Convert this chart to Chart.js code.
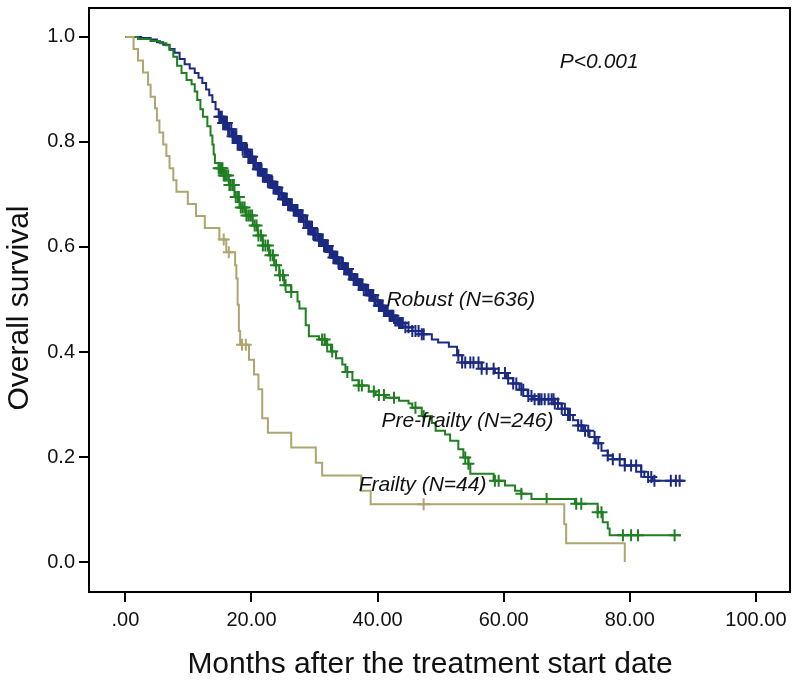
<!DOCTYPE html>
<html>
<head>
<meta charset="utf-8">
<script src="https://cdn.jsdelivr.net/npm/chart.js@4.4.1/dist/chart.umd.min.js"></script>
<style>
  body { margin: 0; background: #fff; }
  #wrap { width: 798px; height: 684px; }
</style>
</head>
<body>
<div id="wrap"><canvas id="kmChart" width="798" height="684"></canvas></div>
<script>
// Kaplan-Meier step points (month, survival after the drop)
const robustTimes = [0, 2.5, 4.0, 5.0, 6.0, 7.0, 7.8, 8.6, 9.4, 10.2, 11.0, 11.6, 12.2, 12.8, 13.3, 13.8, 14.3, 14.8,
  15.5, 16.2, 17.0, 17.8, 18.6, 19.4, 20.2, 21.0, 21.8, 22.6, 23.4, 24.2, 25.0, 25.8, 26.6, 27.4, 28.2, 29.0, 29.8,
  30.6, 31.4, 32.2, 33.0, 33.8, 34.6, 35.4, 36.2, 37.0, 37.8, 38.6, 39.4, 40.2, 41.0, 41.8, 42.6, 43.4, 44.4, 45.5,
  47.0, 48.6, 49.6, 51.3, 52.6, 53.4, 56.5, 58.6, 60.5, 61.5, 62.5, 63.8, 64.6, 68.0, 69.2, 70.2, 71.0, 71.8, 72.6,
  73.6, 74.6, 75.5, 76.5, 77.3, 79.2, 81.8, 82.3, 83.6, 88.7];
const robustSurv = [1.0, 0.998, 0.995, 0.990, 0.985, 0.977, 0.970, 0.958, 0.948, 0.940, 0.931, 0.922, 0.912, 0.900, 0.889, 0.876, 0.862, 0.848,
  0.836, 0.824, 0.811, 0.798, 0.785, 0.772, 0.760, 0.748, 0.736, 0.724, 0.713, 0.702, 0.691, 0.680, 0.670, 0.660, 0.648, 0.636, 0.624,
  0.613, 0.602, 0.591, 0.580, 0.569, 0.558, 0.548, 0.538, 0.528, 0.518, 0.508, 0.498, 0.488, 0.478, 0.469, 0.460, 0.455, 0.447, 0.440,
  0.434, 0.424, 0.418, 0.410, 0.394, 0.380, 0.368, 0.360, 0.350, 0.340, 0.328, 0.316, 0.310, 0.302, 0.292, 0.280, 0.270, 0.260, 0.250,
  0.238, 0.226, 0.212, 0.203, 0.196, 0.184, 0.172, 0.162, 0.155, 0.155];
const robustCensored = [14.9, 15.1, 15.3, 15.5, 15.7, 15.9, 16.1, 16.3, 16.5, 16.8, 17.0, 17.2, 17.4, 17.6, 17.8, 18.0, 18.2,
  18.4, 18.6, 18.9, 19.1, 19.3, 19.5, 19.7, 19.9, 20.1, 20.3, 20.5, 20.7, 21.0, 21.2, 21.4, 21.6, 21.8, 22.0, 22.2, 22.4,
  22.6, 22.9, 23.1, 23.3, 23.5, 23.7, 23.9, 24.1, 24.3, 24.5, 24.8, 25.0, 25.2, 25.4, 25.6, 25.8, 26.0, 26.2, 26.4, 26.7,
  26.9, 27.1, 27.3, 27.5, 27.7, 27.9, 28.1, 28.3, 28.6, 28.8, 29.0, 29.2, 29.4, 29.6, 29.8, 30.0, 30.2, 30.5, 30.7, 30.9,
  31.1, 31.3, 31.5, 31.7, 31.9, 32.1, 32.4, 32.6, 32.8, 33.0, 33.2, 33.4, 33.6, 33.8, 34.0, 34.3, 34.5, 34.7, 34.9, 35.1,
  35.3, 35.5, 35.7, 35.9, 36.2, 36.4, 36.6, 36.8, 37.0, 37.2, 37.4, 37.6, 37.8, 38.1, 38.3, 38.5, 38.7, 38.9, 39.1, 39.3,
  39.5, 39.7, 40.0, 40.2, 40.4, 40.6, 40.8, 41.0, 41.2, 41.4, 41.6, 41.9, 42.1, 42.3, 42.5, 42.8, 43.1, 43.4, 43.7, 44.0,
  44.4, 44.9, 45.5, 46.0, 46.5, 47.0, 47.3, 52.8, 53.4, 53.9, 54.7, 55.2, 56.0, 56.5, 57.3, 58.4, 59.2, 60.2, 60.7, 61.5,
  62.0, 62.8, 63.1, 63.9, 64.4, 64.9, 65.5, 65.7, 66.0, 66.5, 67.1, 67.6, 67.9, 68.1, 68.6, 69.2, 69.7, 70.2, 70.5, 71.8,
  72.3, 72.9, 73.4, 74.4, 75.0, 76.5, 77.3, 78.4, 79.2, 80.2, 81.0, 81.8, 82.9, 83.4, 83.9, 86.5, 87.3, 87.9];

const preTimes = [0, 2.0, 4.0, 5.5, 6.5, 7.0, 7.6, 8.2, 8.9, 9.7, 10.5, 11.0, 11.4, 11.9, 12.3, 13.0, 13.5, 13.8, 14.0, 14.2,
  14.8, 15.6, 16.4, 17.3, 18.1, 19.1, 20.2, 21.0, 21.8, 22.8, 23.6, 24.4, 25.2, 26.3, 27.3, 27.6, 28.6, 29.1, 30.7, 31.8,
  32.6, 33.4, 34.4, 34.9, 36.0, 37.0, 38.6, 39.7, 41.3, 43.4, 44.9, 45.5, 47.0, 48.6, 49.2, 50.7, 51.5, 52.8, 53.6, 54.4,
  54.7, 58.4, 60.2, 61.8, 62.8, 64.4, 71.3, 74.9, 75.7, 76.5, 76.8, 88.1];
const preSurv = [1.0, 0.996, 0.992, 0.988, 0.984, 0.975, 0.962, 0.945, 0.931, 0.918, 0.910, 0.896, 0.880, 0.862, 0.848, 0.830, 0.812, 0.795, 0.776, 0.760,
  0.750, 0.736, 0.718, 0.695, 0.675, 0.660, 0.641, 0.622, 0.603, 0.584, 0.565, 0.546, 0.527, 0.514, 0.496, 0.483, 0.451, 0.430, 0.424, 0.414,
  0.401, 0.388, 0.376, 0.362, 0.346, 0.336, 0.325, 0.318, 0.313, 0.307, 0.302, 0.294, 0.278, 0.265, 0.250, 0.243, 0.231, 0.215, 0.199, 0.187,
  0.168, 0.155, 0.146, 0.136, 0.130, 0.120, 0.111, 0.095, 0.076, 0.064, 0.051, 0.051];
const preCensored = [14.8, 15.0, 15.2, 15.4, 15.6, 15.8, 16.0, 16.3, 16.5, 16.7, 17.0, 17.2, 17.5, 17.8, 18.0, 18.3, 18.6,
  18.9, 19.2, 19.5, 19.8, 20.1, 20.5, 20.8, 21.1, 21.5, 21.8, 22.2, 22.6, 23.0, 23.4, 23.9, 24.5, 25.0, 25.4, 26.3, 31.2,
  31.6, 32.0, 32.8, 35.2, 37.0, 37.5, 39.4, 40.2, 41.0, 42.6, 46.0, 47.3, 53.9, 54.4, 58.6, 59.2, 62.8, 66.8, 71.5, 72.3,
  74.9, 75.5, 78.9, 80.2, 81.3, 87.1];

const frailTimes = [0, 1.3, 2.0, 2.8, 3.6, 4.0, 4.7, 5.0, 5.4, 6.0, 6.5, 7.0, 7.6, 8.1, 9.9, 11.2, 12.6, 14.9, 16.0,
  17.4, 17.6, 17.8, 18.0, 18.2, 19.6, 20.4, 21.1, 21.7, 22.6, 26.3, 30.2, 31.2, 37.4, 38.9, 69.6, 69.9, 79.2];
const frailSurv = [1.0, 0.977, 0.955, 0.932, 0.909, 0.886, 0.864, 0.841, 0.818, 0.795, 0.773, 0.750, 0.727, 0.705, 0.682, 0.659, 0.636, 0.614, 0.590,
  0.565, 0.540, 0.490, 0.440, 0.414, 0.385, 0.357, 0.329, 0.274, 0.246, 0.218, 0.189, 0.165, 0.136, 0.110, 0.072, 0.036, 0.0];
const frailCensored = [15.6, 16.4, 18.5, 19.1, 47.3];

const xTicks = [0, 20, 40, 60, 80, 100];
const xTickLabels = ['.00', '20.00', '40.00', '60.00', '80.00', '100.00'];
const yTicks = [0, 0.2, 0.4, 0.6, 0.8, 1.0];
const yTickLabels = ['0.0', '0.2', '0.4', '0.6', '0.8', '1.0'];

const groupLabels = ['Robust (N=636)', 'Pre-frailty (N=246)', 'Frailty (N=44)'];

function stepPoints(times, surv) {
  return times.map((t, i) => ({ x: t, y: surv[i] }));
}

// survival at a censoring time = value of the step curve at that time
function censorPoints(times, surv, cens) {
  return cens.map(t => {
    let s = surv[0];
    for (let i = 0; i < times.length; i++) {
      if (times[i] <= t) s = surv[i];
    }
    return { x: t, y: s };
  });
}

const NAVY = '#1b2a80';
const GREEN = '#1f7f22';
const KHAKI = '#ada66f';
const FONT = '"Liberation Sans", Arial, sans-serif';

function curve(label, times, surv, color) {
  return {
    label: label,
    data: stepPoints(times, surv),
    showLine: true,
    stepped: 'before',
    borderColor: color,
    borderWidth: 2,
    pointRadius: 0,
    fill: false
  };
}

function marks(label, times, surv, cens, color) {
  return {
    label: label + ' censored',
    data: censorPoints(times, surv, cens),
    showLine: false,
    pointStyle: 'cross',
    pointRadius: 6,
    pointBorderWidth: 2,
    borderColor: color,
    backgroundColor: color
  };
}

const frameAndText = {
  id: 'frameAndText',
  afterDraw(chart) {
    const ctx = chart.ctx;
    const ca = chart.chartArea;
    const xs = chart.scales.x;
    const ys = chart.scales.y;
    ctx.save();
    ctx.strokeStyle = '#000';
    ctx.lineWidth = 2;
    ctx.strokeRect(ca.left, ca.top, ca.right - ca.left, ca.bottom - ca.top);

    ctx.fillStyle = '#111';
    ctx.textAlign = 'left';
    ctx.textBaseline = 'alphabetic';
    ctx.font = 'italic 21px ' + FONT;
    ctx.fillText('P<0.001', xs.getPixelForValue(68.9), ys.getPixelForValue(0.94));
    ctx.fillText(groupLabels[0], xs.getPixelForValue(41.4), ys.getPixelForValue(0.488));
    ctx.fillText(groupLabels[1], xs.getPixelForValue(40.6), ys.getPixelForValue(0.257));
    ctx.fillText(groupLabels[2], xs.getPixelForValue(37.0), ys.getPixelForValue(0.136));

    // axis titles
    ctx.font = '30px ' + FONT;
    ctx.textAlign = 'center';
    ctx.fillText('Months after the treatment start date', 430, 673);
    ctx.translate(28, 308);
    ctx.rotate(-Math.PI / 2);
    ctx.fillText('Overall survival', 0, 0);
    ctx.restore();
  }
};

const ctx = document.getElementById('kmChart').getContext('2d');
new Chart(ctx, {
  type: 'scatter',
  data: {
    datasets: [
      marks('Frailty', frailTimes, frailSurv, frailCensored, KHAKI),
      curve(groupLabels[2], frailTimes, frailSurv, KHAKI),
      marks('Pre-frailty', preTimes, preSurv, preCensored, GREEN),
      curve(groupLabels[1], preTimes, preSurv, GREEN),
      marks('Robust', robustTimes, robustSurv, robustCensored, NAVY),
      curve(groupLabels[0], robustTimes, robustSurv, NAVY)
    ]
  },
  options: {
    responsive: false,
    animation: false,
    layout: { padding: { top: 4, right: 4, left: 0, bottom: 0 } },
    plugins: {
      legend: { display: false },
      tooltip: { enabled: false }
    },
    scales: {
      x: {
        type: 'linear',
        min: -5.77,
        max: 105.4,
        afterBuildTicks: scale => { scale.ticks = xTicks.map(v => ({ value: v })); },
        afterFit: scale => { scale.height = 92; scale.paddingLeft = 0; scale.paddingRight = 0; },
        ticks: {
          color: '#111',
          font: { family: FONT, size: 20 },
          padding: 6,
          maxRotation: 0,
          callback: (v, i) => xTickLabels[i]
        },
        grid: { drawOnChartArea: false, tickLength: 10, color: '#000', lineWidth: 2 },
        border: { display: false }
      },
      y: {
        type: 'linear',
        min: -0.057,
        max: 1.055,
        afterBuildTicks: scale => { scale.ticks = yTicks.map(v => ({ value: v })); },
        afterFit: scale => { scale.width = 89; scale.paddingTop = 0; scale.paddingBottom = 0; },
        ticks: {
          color: '#111',
          font: { family: FONT, size: 20 },
          padding: 4,
          callback: (v, i) => yTickLabels[i]
        },
        grid: { drawOnChartArea: false, tickLength: 10, color: '#000', lineWidth: 2 },
        border: { display: false }
      }
    }
  },
  plugins: [frameAndText]
});
</script>
</body>
</html>
